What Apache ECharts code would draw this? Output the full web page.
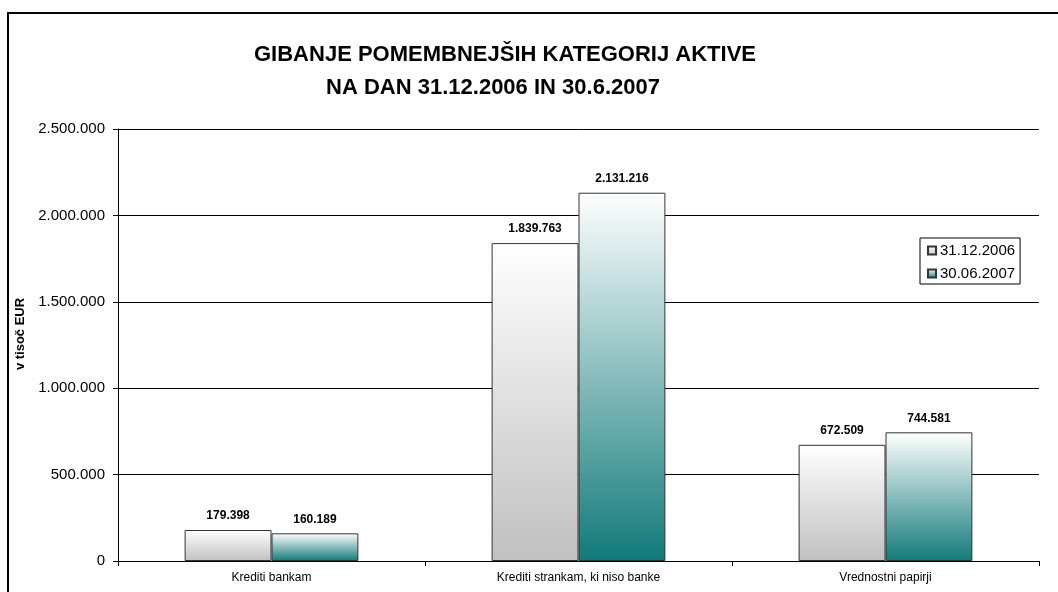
<!DOCTYPE html>
<html>
<head>
<meta charset="utf-8">
<script src="https://cdn.jsdelivr.net/npm/echarts@6/dist/echarts.min.js"></script>
<style>
  html, body { margin: 0; padding: 0; background: #fff; }
  #chart-container { width: 1058px; height: 592px; }
</style>
</head>
<body>
<div id="chart-container"></div>
<script>
var dom = document.getElementById("chart-container");
var myChart = echarts.init(dom, null, { renderer: "canvas" });

const categories = ["Krediti bankam", "Krediti strankam, ki niso banke", "Vrednostni papirji"];
const seriesNames = ["31.12.2006", "30.06.2007"];
const values2006 = [179398, 1839763, 672509];
const values2007 = [160189, 2131216, 744581];
const titleLines = ["GIBANJE POMEMBNEJŠIH KATEGORIJ AKTIVE", "NA DAN 31.12.2006 IN 30.6.2007"];

function fmt(v) {
  return String(v).replace(/\B(?=(\d{3})+(?!\d))/g, ".");
}

function grad(bottom) {
  return new echarts.graphic.LinearGradient(0, 0, 0, 1, [
    { offset: 0, color: "#ffffff" },
    { offset: 1, color: bottom },
  ]);
}

const font = "Liberation Sans, Arial, sans-serif";

const titleStyle = {
  fontFamily: font,
  fontSize: 22,
  fontWeight: "bold",
  color: "#000",
};

const barLabel = {
  show: true,
  position: "top",
  distance: 8,
  fontFamily: font,
  fontSize: 12,
  fontWeight: "bold",
  color: "#000",
  formatter: function (p) { return fmt(p.value); },
};

var option = {
  backgroundColor: "#ffffff",
  animation: false,
  title: [
    { text: titleLines[0], left: 505, textAlign: "center", top: 44, padding: 0, textStyle: titleStyle },
    { text: titleLines[1], left: 493, textAlign: "center", top: 77, padding: 0, textStyle: titleStyle },
  ],
  graphic: [
    {
      type: "rect",
      shape: { x: 8, y: 13, width: 1080, height: 620 },
      style: { fill: "none", stroke: "#000", lineWidth: 2 },
      silent: true,
    },
  ],
  legend: {
    data: seriesNames,
    orient: "vertical",
    left: 920,
    top: 238,
    padding: [5, 5, 3, 7],
    itemGap: 8,
    itemWidth: 8,
    itemHeight: 8,
    borderColor: "#000",
    borderWidth: 1,
    borderRadius: 0,
    textStyle: { fontFamily: font, fontSize: 15, color: "#000", padding: [0, 0, 0, -1] },
    icon: "rect",
  },
  grid: {
    left: 118,
    right: 19,
    top: 129,
    bottom: 31,
  },
  xAxis: {
    type: "category",
    data: categories,
    axisLine: { lineStyle: { color: "#000", width: 1 } },
    axisTick: { show: true, length: 5, lineStyle: { color: "#000" } },
    axisLabel: { fontFamily: font, fontSize: 12, color: "#000", margin: 11 },
  },
  yAxis: {
    type: "value",
    min: 0,
    max: 2500000,
    interval: 500000,
    name: "v tisoč EUR",
    nameLocation: "middle",
    nameGap: 88,
    nameTextStyle: {
      fontFamily: font,
      fontSize: 13,
      fontWeight: "bold",
      color: "#000",
      padding: [0, 0, 0, 22],
    },
    axisLine: { show: true, lineStyle: { color: "#000", width: 1 } },
    axisTick: { show: true, length: 5, lineStyle: { color: "#000" } },
    axisLabel: {
      fontFamily: font,
      fontSize: 15,
      color: "#000",
      margin: 13,
      formatter: function (v) { return fmt(v); },
    },
    splitLine: { lineStyle: { color: "#000", width: 1 } },
  },
  series: [
    {
      name: seriesNames[0],
      type: "bar",
      data: values2006,
      barWidth: "28.3%",
      barGap: "0%",
      itemStyle: { color: grad("#c0c0c0"), borderColor: "#333", borderWidth: 1 },
      label: barLabel,
    },
    {
      name: seriesNames[1],
      type: "bar",
      data: values2007,
      barWidth: "28.3%",
      barGap: "0%",
      itemStyle: { color: grad("#127a7a"), borderColor: "#333", borderWidth: 1 },
      label: barLabel,
    },
  ],
};

myChart.setOption(option);
window.addEventListener("resize", myChart.resize);
</script>
</body>
</html>
